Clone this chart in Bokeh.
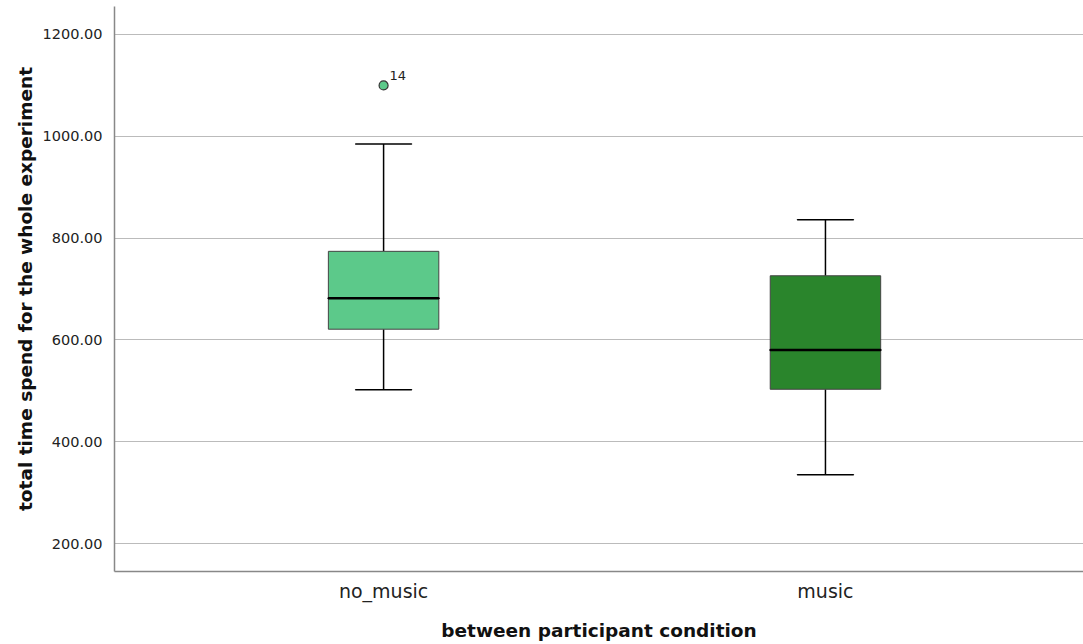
from bokeh.plotting import figure
from bokeh.models import ColumnDataSource, FixedTicker, Range1d
from bokeh.core.properties import value
from bokeh.embed import file_html
from bokeh.resources import INLINE

categories = ["no_music", "music"]
positions = [1, 2]
whisker_low = [502, 335]
q1 = [621, 503]
median = [682, 580]
q3 = [774, 726]
whisker_high = [985, 836]
box_colors = ["#5cc98a", "#2a852c"]
outlier_x = [1]
outlier_y = [1100]
outlier_labels = ["14"]
y_ticks = [200, 400, 600, 800, 1000, 1200]

box_w = 0.25
cap_w = 0.127

p = figure(width=1083, height=644, output_backend="svg", toolbar_location=None,
           x_range=Range1d(0.391, 2.584), y_range=Range1d(145, 1255),
           min_border_left=114, min_border_right=0, min_border_top=6, min_border_bottom=73)
p.outline_line_color = None
p.background_fill_color = "white"
p.border_fill_color = "white"

src = ColumnDataSource(dict(x=positions, lo=whisker_low, q1=q1, med=median, q3=q3,
                            hi=whisker_high, color=box_colors))

p.segment(x0="x", y0="q3", x1="x", y1="hi", source=src, line_color="black", line_width=1.5)
p.segment(x0="x", y0="lo", x1="x", y1="q1", source=src, line_color="black", line_width=1.5)
p.rect(x="x", y="hi", width=cap_w, height=0.01, source=src, line_color="black", line_width=1.5, height_units="screen")
p.rect(x="x", y="lo", width=cap_w, height=0.01, source=src, line_color="black", line_width=1.5, height_units="screen")
p.vbar(x="x", width=box_w, bottom="q1", top="q3", source=src, fill_color="color",
       line_color="#444444", line_width=1)
p.rect(x="x", y="med", width=box_w, height=0.01, height_units="screen", source=src,
       line_color="black", line_width=2.5)

osrc = ColumnDataSource(dict(x=outlier_x, y=outlier_y, t=outlier_labels))
p.scatter(x="x", y="y", source=osrc, size=9, fill_color=box_colors[0], line_color="#333333", line_width=1.2)
p.text(x="x", y="y", text="t", source=osrc, x_offset=6, y_offset=-5, text_font=value("DejaVu Sans"),
       text_font_size="13px", text_color="#222222", text_baseline="bottom", text_align="left")

p.xaxis.ticker = FixedTicker(ticks=positions)
p.xaxis.major_label_overrides = {pos: c for pos, c in zip(positions, categories)}
p.yaxis.ticker = FixedTicker(ticks=y_ticks)
p.yaxis.major_label_overrides = {t: f"{t:.2f}" for t in y_ticks}

p.xaxis.axis_label = "between participant condition"
p.yaxis.axis_label = "total time spend for the whole experiment"
for ax in (p.xaxis, p.yaxis):
    ax.axis_label_text_font = "DejaVu Sans"
    ax.axis_label_text_font_style = "bold"
    ax.axis_label_text_font_size = "18.5px"
    ax.axis_label_text_color = "#111111"
    ax.major_label_text_font = "DejaVu Sans"
    ax.major_label_text_color = "#222222"
    ax.major_tick_line_color = None
    ax.minor_tick_line_color = None
    ax.axis_line_color = "#888888"
    ax.axis_line_width = 1.5
p.xaxis.major_label_text_font_size = "19px"
p.yaxis.major_label_text_font_size = "14.5px"
p.xaxis.major_label_standoff = 2
p.xaxis.axis_label_standoff = 15
p.yaxis.major_label_standoff = 6
p.yaxis.axis_label_standoff = 4

p.xgrid.grid_line_color = None
p.ygrid.grid_line_color = "#bbbbbb"
p.ygrid.grid_line_width = 1.2

open("out.html", "w").write(file_html(p, INLINE))
